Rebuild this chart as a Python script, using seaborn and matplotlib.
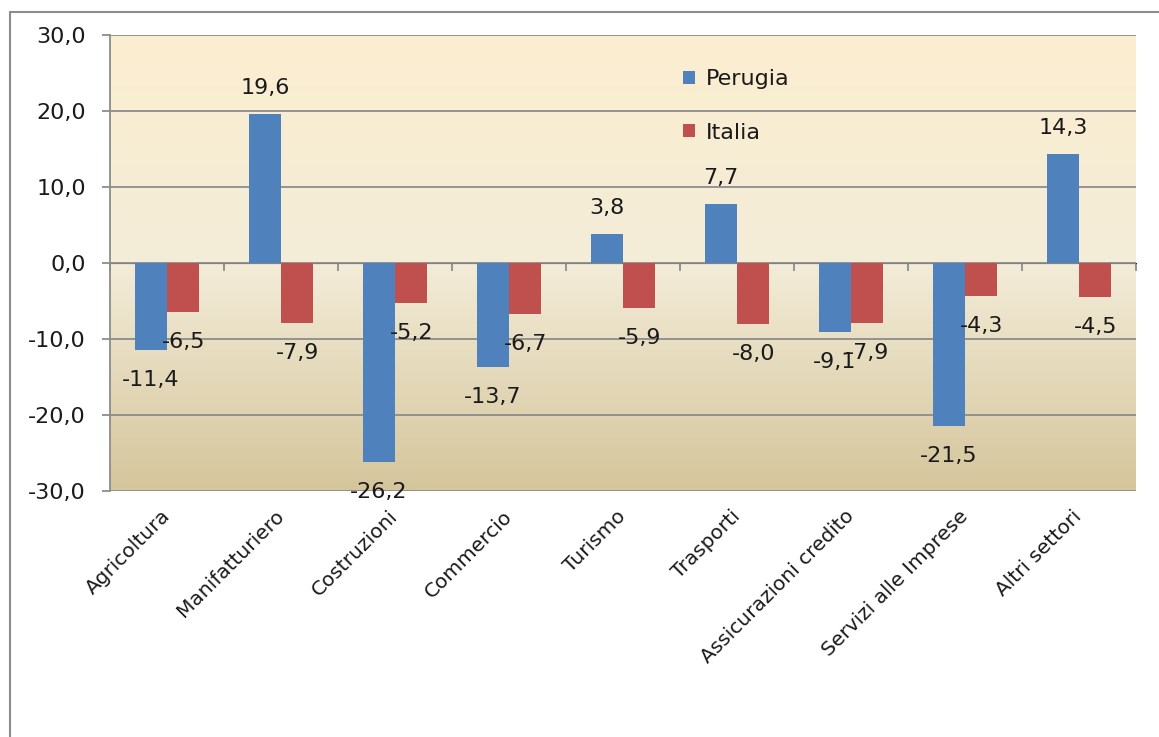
import numpy as np
import pandas as pd
import matplotlib
matplotlib.use("Agg")
import matplotlib.pyplot as plt
from matplotlib.patches import Patch, Rectangle
from matplotlib.colors import LinearSegmentedColormap
from matplotlib.ticker import NullFormatter
import seaborn as sns

categories = ["Agricoltura", "Manifatturiero", "Costruzioni", "Commercio", "Turismo",
              "Trasporti", "Assicurazioni credito", "Servizi alle Imprese", "Altri settori"]
perugia = [-11.4, 19.6, -26.2, -13.7, 3.8, 7.7, -9.1, -21.5, 14.3]
italia = [-6.5, -7.9, -5.2, -6.7, -5.9, -8.0, -7.9, -4.3, -4.5]
series_names = ["Perugia", "Italia"]
yticks = [-30, -20, -10, 0, 10, 20, 30]

colors = {"Perugia": "#4F81BD", "Italia": "#C0504D"}

df = pd.DataFrame({
    "Settore": categories * 2,
    "Serie": [series_names[0]] * len(categories) + [series_names[1]] * len(categories),
    "Valore": perugia + italia,
})

sns.set_style("white")
plt.rcParams["font.family"] = ["DejaVu Sans"]

W, H = 1159, 737
fig = plt.figure(figsize=(W / 100, H / 100), dpi=100)
ax = fig.add_axes([110 / W, 1 - 491 / H, (1136 - 110) / W, (491 - 35) / H])

# gradient background
cmap = LinearSegmentedColormap.from_list(
    "bg", [(0.0, "#D4C59B"), (0.5, "#F3ECD8"), (1.0, "#FCEED0")])
grad = np.linspace(0, 1, 256).reshape(-1, 1)
ax.imshow(grad, cmap=cmap, origin="lower", aspect="auto",
          extent=(-0.5, len(categories) - 0.5, -30, 30), zorder=0)

sns.barplot(data=df, x="Settore", y="Valore", hue="Serie", order=categories,
            hue_order=series_names, palette=colors, saturation=1, width=0.57,
            gap=0, dodge=True, legend=False, ax=ax, zorder=3, linewidth=0,
            edgecolor="none")

ax.set_xlim(-0.5, len(categories) - 0.5)
ax.set_ylim(-30, 30)
ax.set_yticks(yticks)
ax.set_yticklabels([f"{v:.1f}".replace(".", ",") for v in yticks])
ax.set_axisbelow(True)
ax.yaxis.grid(True, color="#8C8C8C", lw=1.3, zorder=1)
ax.xaxis.grid(False)
ax.set_xlabel("")
ax.set_ylabel("")

for s in ["top", "right", "bottom"]:
    ax.spines[s].set_visible(False)
ax.spines["left"].set_color("#8C8C8C")
ax.spines["left"].set_linewidth(1.3)

ax.tick_params(axis="y", which="major", left=True, direction="out", length=5.5,
               width=1.3, color="#8C8C8C", pad=12, labelsize=16, labelcolor="#1a1a1a")
ax.set_xticks(range(len(categories)))
ax.set_xticklabels(categories, rotation=45, ha="right", va="center",
                   rotation_mode="anchor", fontsize=14.5, color="#1a1a1a")
ax.tick_params(axis="x", length=0, pad=16)

# zero axis with boundary ticks
sec = ax.secondary_xaxis(0.5)
sec.set_xticks(np.arange(-0.5, len(categories), 1.0))
sec.xaxis.set_major_formatter(NullFormatter())
sec.tick_params(axis="x", direction="out", length=5.5, width=1.3, color="#8C8C8C",
                bottom=True, top=False)
sec.xaxis.set_ticks_position("bottom")
sec.spines["bottom"].set_color("#8C8C8C")
sec.spines["bottom"].set_linewidth(1.3)

# value labels
for container, values in zip(ax.containers, [perugia, italia]):
    for bar, v in zip(container, values):
        xc = bar.get_x() + bar.get_width() / 2
        off = 26 if v >= 0 else -30
        ax.annotate(f"{v:.1f}".replace(".", ","), (xc, v), xytext=(0, off),
                    textcoords="offset pixels", ha="center", va="center",
                    fontsize=16, color="#1a1a1a", zorder=6, annotation_clip=False)

handles = [Patch(facecolor=colors[n], edgecolor="none", label=n) for n in series_names]
leg = ax.legend(handles=handles, loc="upper left", bbox_to_anchor=(0.558, 0.925),
                frameon=False, fontsize=16, handlelength=0.55, handleheight=0.55,
                handletextpad=0.5, labelspacing=1.5, borderaxespad=0, borderpad=0)
for t in leg.get_texts():
    t.set_color("#1a1a1a")

# outer chart border (left and top visible)
fig.add_artist(Rectangle((10 / W, -0.5), 1.5, 1.5 - 12 / H, transform=fig.transFigure,
                         fill=False, edgecolor="#8C8C8C", lw=1.5))

fig.savefig("out.png", dpi=100)
